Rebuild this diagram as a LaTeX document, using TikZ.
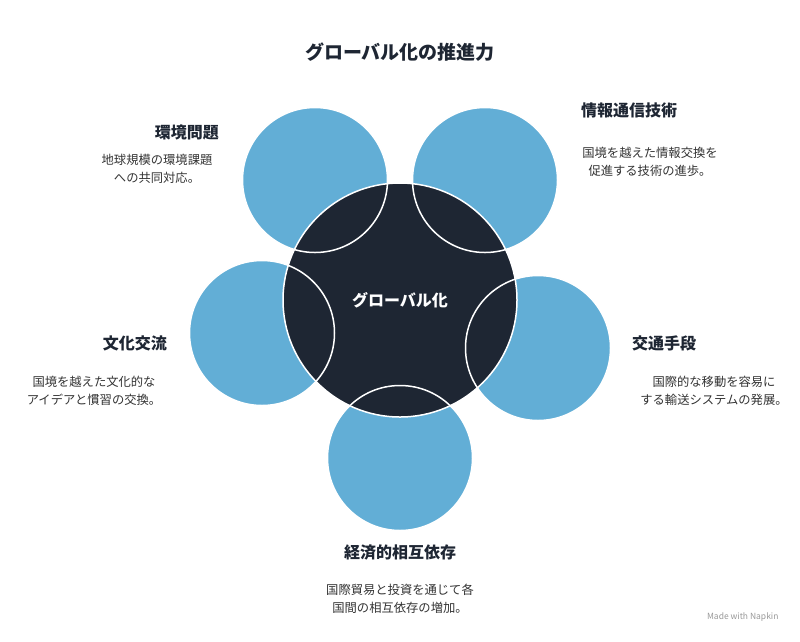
\documentclass[tikz,border=0pt]{standalone}
\usepackage{fontspec}
\setmainfont{Noto Sans CJK JP}
\definecolor{dark}{HTML}{1E2633}
\definecolor{cblue}{HTML}{62AED6}
\definecolor{txt}{HTML}{333333}
\begin{document}
\begin{tikzpicture}[x=1pt,y=-1pt,
  outer/.style={circle,fill=cblue,minimum size=145pt,inner sep=0pt},
  ring/.style={circle,draw=white,line width=1.5pt,minimum size=145pt,inner sep=0pt},
  head/.style={font=\bfseries\fontsize{16}{19}\selectfont,text=dark,inner sep=0pt},
  desc/.style={font=\fontsize{12.3}{18}\selectfont,text=txt,align=center,inner sep=0pt}]
\useasboundingbox[fill=white] (0,0) rectangle (800,641);
\node[font=\bfseries\fontsize{19}{23}\selectfont,text=dark] (title) at (400,52) {グローバル化の推進力};
\node[outer] (c1) at (315,180) {};
\node[outer] (c2) at (485,180) {};
\node[outer] (c3) at (538,348) {};
\node[outer] (c4) at (400,458) {};
\node[outer] (c5) at (262,333) {};
\node[circle,fill=dark,draw=white,line width=1.5pt,minimum size=234pt,inner sep=0pt] (ctr) at (400,300) {};
\foreach \p in {(315,180),(485,180),(538,348),(400,458),(262,333)} \node[ring] at \p {};
\node[font=\bfseries\fontsize{16}{19}\selectfont,text=white] (ct) at (400,300) {グローバル化};
\node[head,anchor=east] (h1) at (219,133) {環境問題};
\node[desc] (d1) at (157,169) {地球規模の環境課題\\への共同対応。};
\node[head,anchor=west] (h2) at (581,110) {情報通信技術};
\node[desc] (d2) at (650,162) {国境を越えた情報交換を\\促進する技術の進歩。};
\node[head,anchor=east] (h5) at (167,343) {文化交流};
\node[desc] (d5) at (94,391) {国境を越えた文化的な\\アイデアと慣習の交換。};
\node[head,anchor=west] (h3) at (632,343) {交通手段};
\node[desc] (d3) at (714,391) {国際的な移動を容易に\\する輸送システムの発展。};
\node[head] (h4) at (400,552) {経済的相互依存};
\node[desc] (d4) at (400,599) {国際貿易と投資を通じて各\\国間の相互依存の増加。};
\node[font=\fontsize{8.5}{10}\selectfont,text=gray!80,anchor=east] (mk) at (782,617) {Made with Napkin};
\end{tikzpicture}
\end{document}
